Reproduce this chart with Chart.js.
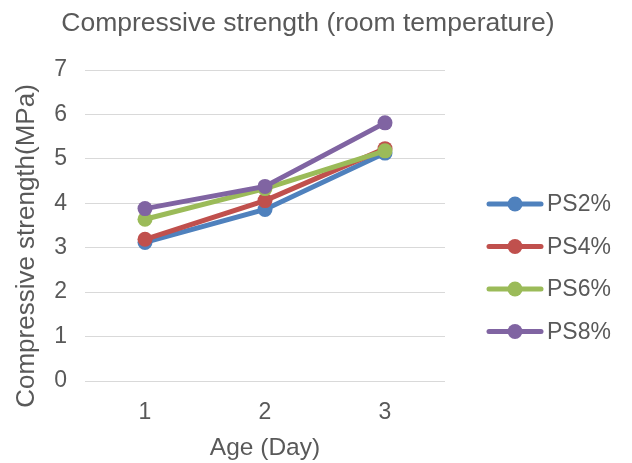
<!DOCTYPE html>
<html>
<head>
<meta charset="utf-8">
<script src="https://cdn.jsdelivr.net/npm/chart.js@4/dist/chart.umd.min.js"></script>
<style>
  html, body { margin: 0; padding: 0; background: #fff; }
  #wrap { width: 632px; height: 463px; }
</style>
</head>
<body>
<div id="wrap"><canvas id="strengthChart" width="632" height="463"></canvas></div>
<script>
//data section
const ages = ['1', '2', '3'];
const ps2 = [3.12, 3.86, 5.13];
const ps4 = [3.19, 4.06, 5.23];
const ps6 = [3.64, 4.33, 5.18];
const ps8 = [3.88, 4.38, 5.81];
const seriesNames = ['PS2%', 'PS4%', 'PS6%', 'PS8%'];
const seriesColors = ['#4f81bd', '#c0504d', '#9bbb59', '#8064a2'];

const chartTitle = 'Compressive strength (room temperature)';
const xTitle = 'Age (Day)';
const yTitle = 'Compressive strength(MPa)';

const textGray = '#595959';
const fontFam = '"Liberation Sans", Arial, sans-serif';

//titles + legend drawn by hand so they sit where excel put them
const extrasPlugin = {
    id: 'extras',
    afterDraw(chart) {
        const ctx = chart.ctx;
        const area = chart.chartArea;
        ctx.save();
        ctx.fillStyle = textGray;
        ctx.textBaseline = 'middle';

        // chart title
        ctx.font = '26.5px ' + fontFam;
        ctx.textAlign = 'center';
        ctx.fillText(chartTitle, 308, 24);

        // x title
        ctx.font = '24.5px ' + fontFam;
        ctx.fillText(xTitle, (area.left + area.right) / 2, 448);

        // y title
        ctx.save();
        ctx.font = '26px ' + fontFam;
        ctx.translate(27, 246);
        ctx.rotate(-Math.PI / 2);
        ctx.fillText(yTitle, 0, 0);
        ctx.restore();

        // legend
        ctx.font = '23px ' + fontFam;
        ctx.textAlign = 'left';
        chart.data.datasets.forEach((ds, i) => {
            const y = 204 + i * 42.5;
            ctx.strokeStyle = ds.borderColor;
            ctx.lineWidth = 5;
            ctx.lineCap = 'round';
            ctx.beginPath();
            ctx.moveTo(489, y);
            ctx.lineTo(541, y);
            ctx.stroke();
            ctx.fillStyle = ds.borderColor;
            ctx.beginPath();
            ctx.arc(515, y, 7.5, 0, Math.PI * 2);
            ctx.fill();
            ctx.fillStyle = textGray;
            ctx.fillText(ds.label, 547, y + 1);
        });
        ctx.restore();
    }
};

const allSeries = [ps2, ps4, ps6, ps8];

const strengthGraph = () => {
    var ctx = document.getElementById('strengthChart').getContext('2d');
    var chart = new Chart(ctx, {
        type: 'line',
        data: {
            labels: ages,
            datasets: allSeries.map((vals, i) => ({
                label: seriesNames[i],
                data: vals,
                borderColor: seriesColors[i],
                backgroundColor: seriesColors[i],
                borderWidth: 5,
                pointRadius: 7.5,
                pointHoverRadius: 7.5,
                pointBorderWidth: 0,
                tension: 0,
                order: allSeries.length - i // later series on top, like excel
            }))
        },
        options: {
            responsive: false,
            animation: false,
            layout: {
                padding: { left: 0, right: 187, top: 70, bottom: 0 }
            },
            plugins: {
                legend: { display: false },
                title: { display: false },
                tooltip: { enabled: false }
            },
            scales: {
                x: {
                    offset: true,
                    grid: { display: false },
                    border: { display: false },
                    ticks: {
                        color: textGray,
                        font: { family: fontFam, size: 23 },
                        padding: 10
                    },
                    afterFit(scale) { scale.height = 82; }
                },
                y: {
                    min: 0,
                    max: 7,
                    grid: { color: '#d9d9d9', lineWidth: 1, drawTicks: false },
                    border: { display: false },
                    ticks: {
                        stepSize: 1,
                        color: textGray,
                        font: { family: fontFam, size: 23 },
                        padding: 18
                    },
                    afterFit(scale) { scale.width = 85; }
                }
            }
        },
        plugins: [extrasPlugin]
    });
};

strengthGraph();
</script>
</body>
</html>
